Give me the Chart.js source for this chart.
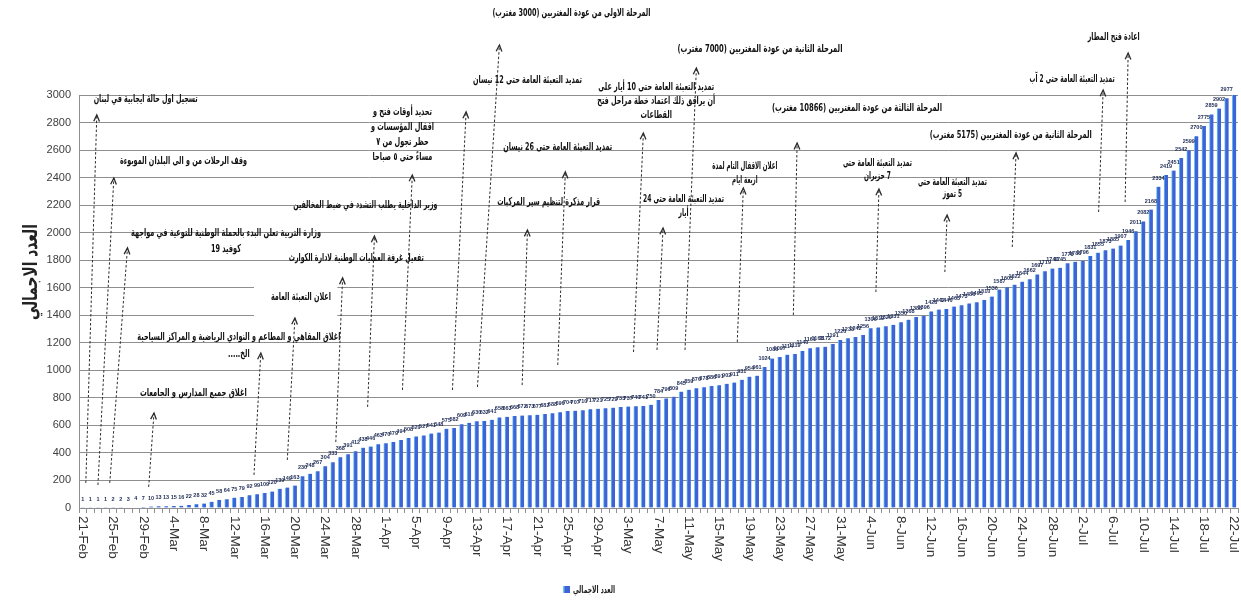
<!DOCTYPE html>
<html lang="ar">
<head>
<meta charset="utf-8">
<title>العدد الاجمالي</title>
<script src="https://cdn.jsdelivr.net/npm/chart.js@4.4.1/dist/chart.umd.min.js"></script>
<style>
  html, body { margin: 0; padding: 0; background: #fff; }
  #grafic { display: block; }
</style>
</head>
<body>
<canvas id="grafic" width="1241" height="601"></canvas>
<script>
/* Lebanon – cumulative cases, 21 Feb to 22 Jul 2020, with the measures taken */

const MONTHS = ['Jan', 'Feb', 'Mar', 'Apr', 'May', 'Jun', 'Jul'];

// one category per day
const dates = [];
for (let d = new Date(Date.UTC(2020, 1, 21)); d <= new Date(Date.UTC(2020, 6, 22)); d.setUTCDate(d.getUTCDate() + 1)) {
  dates.push(d.getUTCDate() + '-' + MONTHS[d.getUTCMonth()]);
}

const totalCases = [
  1, 1, 1, 1, 2, 2, 3, 4, 7,
  10, 13, 13, 15, 16, 22, 28, 32, 45, 58, 64, 75, 79, 92, 99, 109, 120, 139, 149, 163,
  230, 248, 267, 304, 333, 368, 391, 412,
  438, 446, 463, 470, 479, 494, 508, 520, 527, 541, 548, 575,
  582, 609,
  619, 630, 632, 641, 658, 663, 668, 672, 673, 677, 682, 688, 696, 704, 707, 710, 717, 721, 725, 729, 733, 737, 740, 741, 750,
  784, 796, 809, 845, 859, 870, 878, 886, 891, 902, 911, 931, 954, 961, 1024,
  1086, 1097, 1114, 1119, 1140, 1161, 1168, 1172, 1191, 1220, 1233, 1242, 1256,
  1306, 1312, 1320, 1331, 1350, 1368, 1388, 1396, 1428, 1442, 1446, 1463, 1473, 1486, 1495, 1510, 1536,
  1587, 1603, 1622, 1644, 1662, 1697, 1719, 1740, 1745, 1778, 1788, 1796, 1831, 1855, 1873, 1885, 1907, 1946,
  2011, 2082, 2168, 2334, 2419, 2451, 2542, 2599, 2700, 2775, 2859, 2902, 2977, 3020
];

const SERIES_NAME = 'العدد الاجمالي';
const Y_MAX = 3000;
const Y_STEP = 200;
const X_LABEL_EVERY = 4;

// events: text lines, text anchor [day index, value], max width, arrow from/to [day index, value]
const events = [
  { text: ['تسجيل اول حالة ايجابية في لبنان'], at: [8.3, 2971], w: 104, from: [0.4, 182], to: [1.85, 2855] },
  { text: ['وقف الرحلات من و الى البلدان الموبوءة'], at: [13.3, 2521], w: 127, from: [2.0, 167], to: [4.1, 2397] },
  { text: ['وزارة التربية تعلن البدء بالحملة الوطنية للتوعية في مواجهة', 'كوفيد 19'], at: [18.9, 1998], w: 190, lh: 16, from: [3.56, 182], to: [5.9, 1889] },
  { text: ['اغلاق جميع المدارس و الجامعات'], at: [14.6, 835], w: 107, from: [8.7, 153], to: [9.4, 690] },
  { text: ['اغلاق المقاهي و المطاعم و النوادي الرياضية و المراكز السياحية', 'الخ.....'], at: [20.6, 1242], w: 203, lh: 17, from: [22.6, 240], to: [23.5, 1126] },
  { text: ['اعلان التعبئة العامة'], at: [28.8, 1533], w: 60, from: [27.0, 349], to: [28.0, 1380], box: [22.6, 33.6, 1300, 1700] },
  { text: ['تفعيل غرفة العمليات الوطنية لادارة الكوارث'], at: [36.1, 1816], w: 135, from: [33.4, 479], to: [34.3, 1671] },
  { text: ['وزير الداخلية يطلب التشدد في ضبط المخالفين'], at: [37.3, 2201], w: 144, from: [37.6, 734], to: [38.5, 1976] },
  { text: ['تحديد أوقات فتح و', 'اقفال المؤسسات و', 'حظر تجول من ٧', 'مساءً حتى ٥ صباحا'], at: [42.2, 2877], w: 63, lh: 15, from: [42.2, 857], to: [43.5, 2419] },
  { text: ['تمديد التعبئة العامة حتى 12 نيسان'], at: [58.7, 3109], w: 109, from: [48.8, 857], to: [50.6, 2877] },
  { text: ['المرحلة الاولى من عودة المغتربين (3000 مغترب)'], at: [64.5, 3596], w: 158, from: [52.1, 879], to: [55.0, 3363] },
  { text: ['تمديد التعبئة العامة حتى 26 نيسان'], at: [62.7, 2622], w: 109, from: [62.7, 1039], to: [63.7, 2441] },
  { text: ['قرار مذكرة لتنظيم سير المركبات'], at: [61.5, 2223], w: 103, from: [58.0, 893], to: [58.7, 2019] },
  { text: ['تمديد التعبئة العامة حتى 10 أيار على', 'أن يرافق ذلك اعتماد خطة مراحل فتح', 'القطاعات'], at: [75.7, 3058], w: 118, lh: 14, from: [72.7, 1133], to: [74.0, 2724] },
  { text: ['المرحلة الثانية من عودة المغتربين (7000 مغترب)'], at: [89.4, 3334], w: 165, from: [79.5, 1148], to: [81.0, 3196] },
  { text: ['تمديد التعبئة العامة حتى 24', 'أيار'], at: [79.3, 2245], w: 81, lh: 14, from: [75.8, 1148], to: [76.6, 2034] },
  { text: ['اعلان الاقفال التام لمدة', 'اربعة ايام'], at: [87.4, 2484], w: 65, lh: 14, from: [86.4, 1206], to: [87.2, 2324] },
  { text: ['المرحلة الثالثة من عودة المغتربين (10866 مغترب)'], at: [102.2, 2906], w: 170, from: [93.8, 1402], to: [94.3, 2651] },
  { text: ['تمديد التعبئة العامة حتى', '7 حزيران'], at: [104.9, 2506], w: 69, lh: 13, from: [104.7, 1569], to: [105.1, 2317] },
  { text: ['تمديد التعبئة العامة حتى', '5 تموز'], at: [114.8, 2368], w: 69, lh: 12, from: [113.8, 1714], to: [114.1, 2128] },
  { text: ['المرحلة الثانية من عودة المغتربين (5175 مغترب)'], at: [122.5, 2709], w: 162, from: [122.7, 1896], to: [123.2, 2579] },
  { text: ['تمديد التعبئة العامة حتى 2 آب'], at: [130.6, 3116], w: 85, from: [134.1, 2150], to: [134.7, 3036] },
  { text: ['اعادة فتح المطار'], at: [136.1, 3421], w: 52, from: [137.6, 2223], to: [138.0, 3305] },
];

const FONT = 'Arial, "Liberation Sans", "DejaVu Sans", sans-serif';
const FONT_AR = '"DejaVu Sans", Arial, sans-serif';
const GRID = '#8f8f8f';

function arrow(ctx, x0, y0, x1, y1) {
  ctx.save();
  ctx.strokeStyle = '#2b2b2b';
  ctx.lineWidth = 1;
  ctx.setLineDash([2.5, 2]);
  ctx.beginPath();
  ctx.moveTo(x0, y0);
  ctx.lineTo(x1, y1);
  ctx.stroke();
  ctx.setLineDash([]);
  ctx.lineWidth = 1.3;
  const a = Math.atan2(y1 - y0, x1 - x0);
  ctx.beginPath();
  ctx.moveTo(x1 - 7 * Math.cos(a - 0.42), y1 - 7 * Math.sin(a - 0.42));
  ctx.lineTo(x1, y1);
  ctx.lineTo(x1 - 7 * Math.cos(a + 0.42), y1 - 7 * Math.sin(a + 0.42));
  ctx.stroke();
  ctx.restore();
}

function textBlock(ctx, lines, cx, cy, w, lh) {
  ctx.save();
  ctx.font = 'bold 11px ' + FONT_AR;
  ctx.direction = 'rtl';
  ctx.textAlign = 'center';
  ctx.textBaseline = 'middle';
  ctx.fillStyle = '#111';
  const widths = lines.map(l => ctx.measureText(l).width);
  const k = Math.min(1, w / Math.max(...widths));
  lines.forEach((l, i) => ctx.fillText(l, cx, cy + i * lh, widths[i] * k));
  ctx.restore();
}

const drawExtras = {
  id: 'extras',
  beforeDatasetsDraw(chart) {
    // white boxes that hide the grid behind some labels
    const { ctx, scales: { x, y } } = chart;
    ctx.save();
    ctx.fillStyle = '#fff';
    events.filter(e => e.box).forEach(e => {
      const [i0, i1, v0, v1] = e.box;
      const px0 = x.getPixelForValue(i0), px1 = x.getPixelForValue(i1);
      const py0 = y.getPixelForValue(v1), py1 = y.getPixelForValue(v0);
      ctx.fillRect(px0, py0, px1 - px0, py1 - py0);
    });
    ctx.restore();
  },
  afterDatasetsDraw(chart) {
    // value labels over each bar
    const { ctx, scales: { x, y } } = chart;
    ctx.save();
    ctx.font = 'bold 5.5px ' + FONT;
    ctx.fillStyle = '#1e2b55';
    ctx.textAlign = 'center';
    ctx.textBaseline = 'alphabetic';
    totalCases.forEach((v, i) => {
      if (v > Y_MAX) return;
      ctx.fillText(String(v), x.getPixelForValue(i), y.getPixelForValue(v) - 7);
    });
    ctx.restore();
  },
  afterDraw(chart) {
    const { ctx, chartArea, scales: { x, y } } = chart;

    // date labels, turned clockwise
    ctx.save();
    ctx.font = '13.5px ' + FONT;
    ctx.fillStyle = '#333';
    ctx.textAlign = 'left';
    ctx.textBaseline = 'middle';
    dates.forEach((lab, i) => {
      if (i % X_LABEL_EVERY) return;
      ctx.save();
      ctx.translate(x.getPixelForValue(i), chartArea.bottom + 8);
      ctx.rotate(Math.PI / 2);
      ctx.fillText(lab, 0, 0);
      ctx.restore();
    });
    ctx.restore();

    // y axis title
    ctx.save();
    ctx.font = 'bold 20px ' + FONT_AR;
    ctx.direction = 'rtl';
    ctx.fillStyle = '#222';
    ctx.textAlign = 'center';
    ctx.textBaseline = 'middle';
    ctx.translate(chartArea.left - 47, y.getPixelForValue(1714));
    ctx.rotate(-Math.PI / 2);
    ctx.fillText(SERIES_NAME, 0, 0, 96);
    ctx.restore();

    // legend
    ctx.save();
    ctx.fillStyle = '#3d63d6';
    ctx.fillRect(563, 586, 7, 7);
    ctx.fillStyle = '#67c4ef';
    ctx.fillRect(563, 586, 1.5, 7);
    ctx.font = 'bold 10px ' + FONT_AR;
    ctx.fillStyle = '#222';
    ctx.direction = 'rtl';
    ctx.textAlign = 'left';
    ctx.textBaseline = 'middle';
    ctx.fillText(SERIES_NAME, 573, 590, 42);
    ctx.restore();

    // events
    events.forEach(e => {
      arrow(ctx,
        x.getPixelForValue(e.from[0]), y.getPixelForValue(e.from[1]),
        x.getPixelForValue(e.to[0]), y.getPixelForValue(e.to[1]));
      textBlock(ctx, e.text, x.getPixelForValue(e.at[0]), y.getPixelForValue(e.at[1]), e.w, e.lh || 15);
    });
  }
};

new Chart(document.getElementById('grafic').getContext('2d'), {
  type: 'bar',
  data: {
    labels: dates,
    datasets: [{
      label: SERIES_NAME,
      data: totalCases,
      backgroundColor: '#3d63d6',
      borderColor: '#67c4ef',
      borderWidth: { left: 1, right: 0, top: 0, bottom: 0 },
      borderSkipped: false,
      barThickness: 4,
    }]
  },
  options: {
    responsive: false,
    animation: false,
    devicePixelRatio: 1,
    layout: { padding: { top: 95, right: 3, bottom: 0, left: 0 } },
    plugins: {
      legend: { display: false },
      tooltip: { enabled: false },
    },
    scales: {
      x: {
        offset: true,
        grid: { drawOnChartArea: false, drawTicks: true, tickLength: 5, color: GRID, offset: true },
        border: { color: GRID },
        ticks: { display: false, autoSkip: false },
        afterFit: s => { s.height = 93; },
      },
      y: {
        min: 0,
        max: Y_MAX,
        grid: { color: GRID, drawTicks: false },
        border: { color: GRID },
        ticks: {
          stepSize: Y_STEP,
          padding: 8,
          color: '#404040',
          font: { size: 11, family: FONT },
          callback: v => String(v),
        },
        afterFit: s => { s.width = 79; },
      }
    }
  },
  plugins: [drawExtras]
});
</script>
</body>
</html>
